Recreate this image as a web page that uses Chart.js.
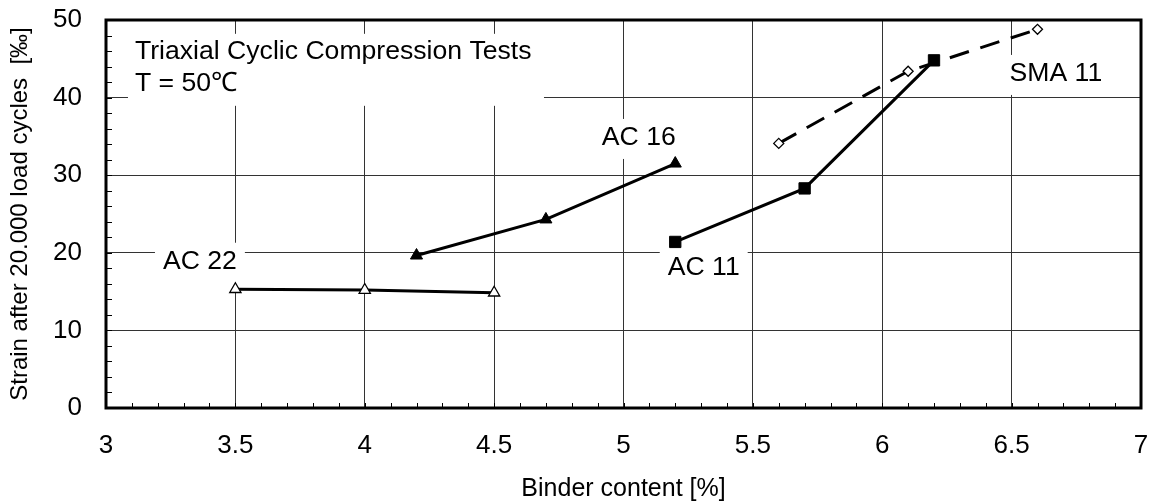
<!DOCTYPE html>
<html>
<head>
<meta charset="utf-8">
<script src="https://cdn.jsdelivr.net/npm/chart.js@4/dist/chart.umd.min.js"></script>
<style>
html, body { margin: 0; padding: 0; background: #fff; }
#wrap { width: 1152px; height: 504px; position: relative; }
</style>
</head>
<body>
<div id="wrap"><canvas id="chart"></canvas></div>
<script>
// data
let ac22X = [3.5, 4.0, 4.5];
let ac22Y = [15.3, 15.2, 14.85];
let ac16X = [4.2, 4.7, 5.2];
let ac16Y = [19.65, 24.3, 31.5];
let ac11X = [5.2, 5.7, 6.2];
let ac11Y = [21.4, 28.3, 44.8];
let sma11X = [5.6, 6.1, 6.6];
let sma11Y = [34.1, 43.4, 48.8];

let xTicks = [3, 3.5, 4, 4.5, 5, 5.5, 6, 6.5, 7];
let yTicks = [0, 10, 20, 30, 40, 50];

// series labels inside the plot (data coordinates)
let labelText = ['AC 22', 'AC 16', 'AC 11', 'SMA 11'];
let labelX = [3.363, 5.059, 5.31, 6.671];
let labelY = [18.85, 34.8, 18.1, 43.05];

let noteLines = ['Triaxial Cyclic Compression Tests', 'T = 50\u2103'];
let noteX = 3.112;
let noteY = [45.9, 41.75];

const FONT = '"Liberation Sans", Arial, sans-serif';

function pts(xs, ys){
  return xs.map(function(x, i){ return {x: x, y: ys[i]}; });
}

// white boxes + text for the labels, drawn over the grid, under the lines
const labelPlugin = {
  id: 'labels',
  beforeDatasetsDraw(chart){
    let ctx = chart.ctx;
    let xs = chart.scales.x, ys = chart.scales.y;
    ctx.save();
    ctx.font = '26.6px ' + FONT;
    ctx.textBaseline = 'middle';

    // note box
    let nx = xs.getPixelForValue(noteX);
    ctx.fillStyle = '#fff';
    ctx.fillRect(nx - 7, ys.getPixelForValue(noteY[0]) - 18, 416, 72);
    ctx.fillStyle = '#000';
    ctx.textAlign = 'left';
    noteLines.forEach(function(t, i){
      ctx.fillText(t, nx, ys.getPixelForValue(noteY[i]));
    });

    ctx.textAlign = 'center';
    labelText.forEach(function(t, i){
      let px = xs.getPixelForValue(labelX[i]);
      let py = ys.getPixelForValue(labelY[i]);
      let w = ctx.measureText(t).width;
      ctx.fillStyle = '#fff';
      ctx.fillRect(px - w/2 - 8, py - 19, w + 16, 40);
      ctx.fillStyle = '#000';
      ctx.fillText(t, px, py);
    });
    ctx.restore();
  },
  afterDraw(chart){
    let ctx = chart.ctx;
    let a = chart.chartArea;
    let xs = chart.scales.x, ys = chart.scales.y;
    ctx.save();
    ctx.strokeStyle = '#000';
    ctx.lineWidth = 1;
    ctx.beginPath();
    // minor ticks on x every 0.1
    for(let i = 30; i <= 70; i++){
      let px = Math.round(xs.getPixelForValue(i / 10)) + 0.5;
      ctx.moveTo(px, a.bottom);
      ctx.lineTo(px, a.bottom - 5);
    }
    // minor ticks on y every 2
    for(let v = 0; v <= 50; v += 2){
      let py = Math.round(ys.getPixelForValue(v)) + 0.5;
      ctx.moveTo(a.left, py);
      ctx.lineTo(a.left + 6, py);
    }
    ctx.stroke();
    // frame
    ctx.lineWidth = 3;
    ctx.strokeRect(a.left, a.top, a.right - a.left, a.bottom - a.top);
    ctx.restore();
  }
};

let ctx = document.getElementById('chart');

new Chart(ctx, {
  type: 'scatter',
  data: {
    datasets: [
      {
        label: 'AC 11',
        data: pts(ac11X, ac11Y),
        showLine: true,
        borderColor: '#000',
        borderWidth: 3,
        pointStyle: 'rect',
        pointRadius: 8,
        pointBackgroundColor: '#000',
        pointBorderColor: '#000',
        pointBorderWidth: 1
      },
      {
        label: 'AC 16',
        data: pts(ac16X, ac16Y),
        showLine: true,
        borderColor: '#000',
        borderWidth: 3,
        pointStyle: 'triangle',
        pointRadius: 7,
        pointBackgroundColor: '#000',
        pointBorderColor: '#000',
        pointBorderWidth: 1
      },
      {
        label: 'AC 22',
        data: pts(ac22X, ac22Y),
        showLine: true,
        borderColor: '#000',
        borderWidth: 3,
        pointStyle: 'triangle',
        pointRadius: 6.5,
        pointBackgroundColor: '#fff',
        pointBorderColor: '#000',
        pointBorderWidth: 1.3
      },
      {
        label: 'SMA 11',
        data: pts(sma11X, sma11Y),
        showLine: true,
        borderColor: '#000',
        borderWidth: 3,
        borderDash: [20, 12],
        pointStyle: 'rectRot',
        pointRadius: 5,
        pointBackgroundColor: '#fff',
        pointBorderColor: '#000',
        pointBorderWidth: 1.3
      }
    ]
  },
  options: {
    responsive: true,
    maintainAspectRatio: false,
    animation: false,
    layout: { padding: { left: 0, right: 11, top: 20, bottom: 0 } },
    plugins: {
      legend: { display: false },
      tooltip: { enabled: false }
    },
    scales: {
      x: {
        type: 'linear',
        min: 3,
        max: 7,
        afterBuildTicks: function(scale){
          scale.ticks = xTicks.map(function(v){ return {value: v}; });
        },
        afterFit: function(scale){
          scale.height = 96;
          scale.paddingLeft = 0;
          scale.paddingRight = 0;
        },
        grid: { color: '#333', lineWidth: 1, drawTicks: false },
        border: { display: false },
        ticks: {
          color: '#000',
          padding: 22,
          font: { family: FONT, size: 26 },
          maxRotation: 0,
          callback: function(v){ return String(v); }
        },
        title: {
          display: true,
          text: 'Binder content [%]',
          color: '#000',
          font: { family: FONT, size: 25 },
          padding: { top: 4, bottom: 0 }
        }
      },
      y: {
        type: 'linear',
        min: 0,
        max: 50,
        afterBuildTicks: function(scale){
          scale.ticks = yTicks.map(function(v){ return {value: v}; });
        },
        afterFit: function(scale){
          scale.width = 106;
          scale.paddingTop = 0;
          scale.paddingBottom = 0;
        },
        grid: { color: '#333', lineWidth: 1, drawTicks: false },
        border: { display: false },
        ticks: {
          color: '#000',
          padding: 24,
          font: { family: FONT, size: 26 }
        },
        title: {
          display: true,
          text: 'Strain after 20.000 load cycles  [\u2030]',
          color: '#000',
          font: { family: FONT, size: 24 },
          padding: { top: 6, bottom: 0 }
        }
      }
    }
  },
  plugins: [labelPlugin]
});
</script>
</body>
</html>
